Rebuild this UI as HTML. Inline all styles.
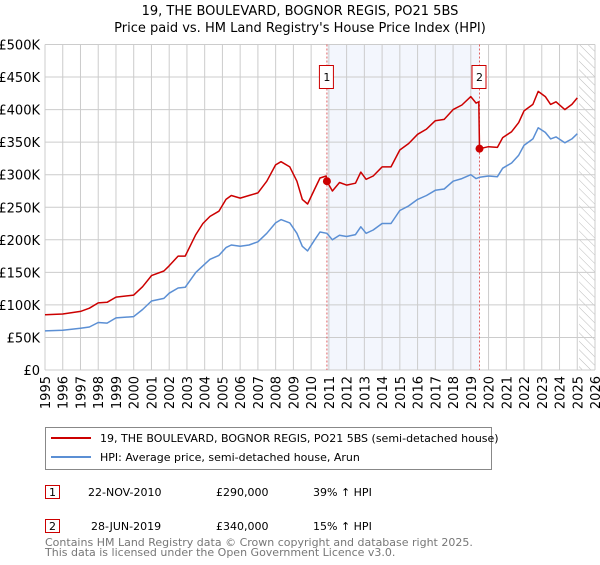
<!DOCTYPE html>
<html><head><meta charset="utf-8"><style>
body{margin:0;background:#fff;font-family:"Liberation Sans","DejaVu Sans",sans-serif}
svg text{font-family:"DejaVu Sans","Liberation Sans",sans-serif}
</style></head><body>
<svg id="c" width="600" height="560" xmlns="http://www.w3.org/2000/svg">
<text x="300" y="15" text-anchor="middle" font-size="13">19, THE BOULEVARD, BOGNOR REGIS, PO21 5BS</text>
<text x="300" y="32" text-anchor="middle" font-size="13">Price paid vs. HM Land Registry's House Price Index (HPI)</text>
<g id="plot"></g>
<rect x="45.5" y="427.5" width="446" height="42" fill="#fff" stroke="#888"/>
<line x1="51" y1="438" x2="91" y2="438" stroke="#cc0000" stroke-width="2"/>
<text x="100" y="442" font-size="11">19, THE BOULEVARD, BOGNOR REGIS, PO21 5BS (semi-detached house)</text>
<line x1="51" y1="457" x2="91" y2="457" stroke="#5b8fd4" stroke-width="2"/>
<text x="100" y="461" font-size="11">HPI: Average price, semi-detached house, Arun</text>
<g font-size="11">
<rect x="45.5" y="485.5" width="14" height="13" fill="#fff" stroke="#cc0000"/><text x="52.5" y="496" text-anchor="middle">1</text>
<text x="88" y="496">22-NOV-2010</text><text x="216" y="496">£290,000</text><text x="313" y="496">39% ↑ HPI</text></g>
<g font-size="11">
<rect x="45.5" y="519.5" width="14" height="13" fill="#fff" stroke="#cc0000"/><text x="52.5" y="530" text-anchor="middle">2</text>
<text x="91" y="530">28-JUN-2019</text><text x="216" y="530">£340,000</text><text x="313" y="530">15% ↑ HPI</text></g>
<text x="45" y="546" font-size="11" fill="#777">Contains HM Land Registry data © Crown copyright and database right 2025.</text>
<text x="45" y="556" font-size="11" fill="#777">This data is licensed under the Open Government Licence v3.0.</text>
</svg>
<script>
const hpiYears=[1995,1996,1997,1997.5,1998,1998.5,1999,2000,2000.5,2001,2001.7,2002,2002.5,2002.9,2003.5,2003.9,2004.3,2004.8,2005.2,2005.5,2006,2006.5,2007,2007.5,2008,2008.3,2008.8,2009.2,2009.5,2009.8,2010.2,2010.5,2010.89,2011.2,2011.6,2012,2012.5,2012.8,2013.1,2013.5,2014,2014.5,2015,2015.5,2016,2016.5,2017,2017.5,2018,2018.5,2019,2019.3,2019.49,2020,2020.5,2020.8,2021.3,2021.7,2022,2022.5,2022.8,2023.2,2023.5,2023.8,2024.3,2024.7,2025.0];
const hpiValues=[60,61,64,66,73,72,80,82,93,106,110,118,126,127,150,160,170,176,188,192,190,192,197,210,226,231,226,210,190,183,200,212,210,200,207,205,208,220,210,215,225,225,245,252,262,268,276,278,290,294,300,294,296,298,297,310,318,330,345,355,372,365,355,358,349,355,363];
const priceYears=[1995,1996,1997,1997.5,1998,1998.5,1999,2000,2000.5,2001,2001.7,2002,2002.5,2002.9,2003.5,2003.9,2004.3,2004.8,2005.2,2005.5,2006,2006.5,2007,2007.5,2008,2008.3,2008.8,2009.2,2009.5,2009.8,2010.2,2010.5,2010.85,2010.89,2011.2,2011.6,2012,2012.5,2012.8,2013.1,2013.5,2014,2014.5,2015,2015.5,2016,2016.5,2017,2017.5,2018,2018.5,2019,2019.3,2019.45,2019.49,2020,2020.5,2020.8,2021.3,2021.7,2022,2022.5,2022.8,2023.2,2023.5,2023.8,2024.3,2024.7,2025.0];
const priceValues=[85,86,90,95,103,104,112,115,128,145,152,160,175,175,208,225,236,244,262,268,264,268,272,290,315,320,312,290,262,255,278,295,298,290,275,288,284,287,304,293,298,312,312,338,348,362,370,383,385,400,407,420,410,412,340,343,342,357,366,380,398,408,428,420,408,412,400,408,418];
const saleYears=[2010.89,2019.49];
const saleValues=[290,340];
const saleLabels=["1","2"];
const yTicks=[0,50,100,150,200,250,300,350,400,450,500];
const yTickLabels=["£0","£50K","£100K","£150K","£200K","£250K","£300K","£350K","£400K","£450K","£500K"];
const xTicks=[1995,1996,1997,1998,1999,2000,2001,2002,2003,2004,2005,2006,2007,2008,2009,2010,2011,2012,2013,2014,2015,2016,2017,2018,2019,2020,2021,2022,2023,2024,2025,2026];
const X0=45,X1=595,Y0=370,Y1=44.5;
const xs=y=>X0+(y-1995)/(2026-1995)*(X1-X0);
const ys=v=>Y0-v/500*(Y0-Y1);
const NS="http://www.w3.org/2000/svg";
const g=document.getElementById('plot');
function mk(t,a){const e=document.createElementNS(NS,t);for(const k in a)e.setAttribute(k,a[k]);g.appendChild(e);return e;}
let e=mk('rect',{x:xs(saleYears[0]),y:Y1,width:xs(saleYears[1])-xs(saleYears[0]),height:Y0-Y1,fill:'#f3f6fd'});


const defs=document.createElementNS(NS,'defs');defs.innerHTML='<pattern id="hat" width="6" height="6" patternUnits="userSpaceOnUse" patternTransform="rotate(-45)"><line x1="0" y1="0" x2="0" y2="6" stroke="#bbb" stroke-width="1"/></pattern>';g.appendChild(defs);
e=mk('rect',{x:xs(2025.1),y:Y1,width:X1-xs(2025.1),height:Y0-Y1,fill:'url(#hat)'});


yTicks.forEach((t,i)=>{
 e=mk('line',{x1:X0,x2:X1,y1:ys(t),y2:ys(t),stroke:'#ccc','stroke-width':1});
 
 
 e=mk('text',{x:X0-5,y:ys(t)+5,'text-anchor':'end','font-size':13});e.textContent=yTickLabels[i];
 
 
});
xTicks.forEach(t=>{
 e=mk('line',{x1:xs(t),x2:xs(t),y1:Y1,y2:Y0,stroke:'#ccc','stroke-width':1});
 
 
 e=mk('text',{x:0,y:0,'font-size':13,'text-anchor':'end',transform:`translate(${xs(t)+5},${Y0+6}) rotate(-90)`});e.textContent=t;
 
 
});
saleYears.forEach((s,i)=>{
 e=mk('line',{x1:xs(s),x2:xs(s),y1:Y1,y2:Y0,stroke:'#e06060','stroke-width':1,'stroke-dasharray':'2,2'});
 
 
});
function path(xa,va,col,name){
 const d=xa.map((x,i)=>(i?'L':'M')+xs(x).toFixed(1)+','+ys(va[i]).toFixed(1)).join('');
 e=mk('path',{d:d,fill:'none',stroke:col,'stroke-width':1.5,'stroke-linejoin':'round'});
 
 
}
path(hpiYears,hpiValues,'#5b8fd4','hpi-line');
path(priceYears,priceValues,'#cc0000','property-price-line');
saleYears.forEach((s,i)=>{
 e=mk('circle',{cx:xs(s),cy:ys(saleValues[i]),r:4,fill:'#cc0000'});
 
 
 e=mk('rect',{x:xs(s)-7.5,y:65.5,width:14,height:23,fill:'#fff',stroke:'#cc0000'});
 
 
 e=mk('text',{x:xs(s),y:81,'text-anchor':'middle','font-size':11});e.textContent=saleLabels[i];
 
 
});
</script>
</body></html>
